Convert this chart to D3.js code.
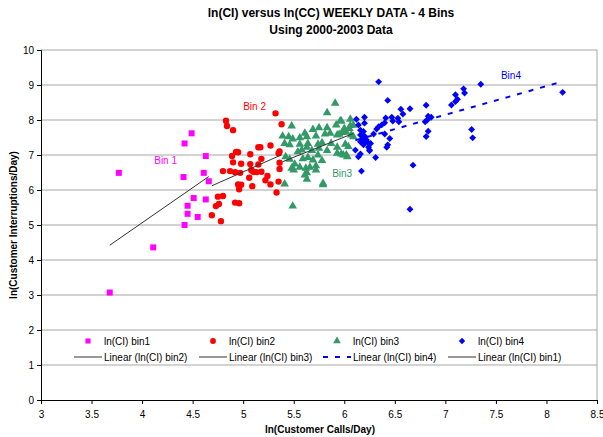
<!DOCTYPE html>
<html>
<head>
<meta charset="utf-8">
<script src="https://cdn.jsdelivr.net/npm/d3@7"></script>
<style>
  body { margin: 0; background: #fff; }
  svg { font-family: "Liberation Sans", Arial, sans-serif; }
</style>
</head>
<body>
<svg class="chart" width="603" height="437"></svg>
<script>
// ln(CI) vs ln(CC), weekly data, split into 4 bins
var bin1X = [4.49, 4.42, 4.63, 3.77, 4.61, 4.41, 4.66, 4.51, 4.63, 4.45, 4.45, 4.55, 4.42, 4.11, 3.68];
var bin1Y = [7.62, 7.33, 6.97, 6.49, 6.49, 6.37, 6.25, 5.77, 5.73, 5.55, 5.32, 5.23, 5.00, 4.36, 3.07];

var bin2X = [5.32, 4.83, 4.84, 5.38, 4.90, 5.27, 5.17, 4.93, 4.95, 5.07, 5.36, 5.35, 4.89, 5.18, 4.90, 4.98,
             5.07, 5.15, 5.36, 5.36, 4.80, 4.87, 4.92, 4.97, 5.08, 5.10, 5.13, 5.18, 5.24, 5.06, 5.22, 4.95,
             4.98, 5.09, 5.27, 5.35, 4.96, 5.33, 4.75, 4.80, 4.92, 4.96, 4.76, 4.73, 4.69, 4.78, 5.15];
var bin2Y = [8.19, 7.98, 7.83, 7.88, 7.71, 7.27, 7.22, 7.09, 7.08, 7.02, 7.10, 7.05, 6.97, 6.89, 6.79, 6.75,
             6.74, 6.73, 6.78, 6.60, 6.54, 6.54, 6.51, 6.49, 6.57, 6.52, 6.51, 6.52, 6.40, 6.35, 6.28, 6.16,
             6.15, 6.11, 6.16, 6.24, 6.02, 5.93, 5.81, 5.83, 5.64, 5.62, 5.60, 5.54, 5.28, 5.11, 7.22];

var bin3X = [5.91, 5.83, 5.96, 6.06, 5.48, 5.75, 5.69, 5.83, 5.61, 5.45, 5.49, 5.63, 5.72, 5.81, 5.93, 6.00,
             6.05, 5.41, 5.46, 5.64, 5.56, 5.74, 5.78, 5.87, 6.01, 5.63, 5.83, 5.68, 5.93, 5.54, 5.93, 5.97,
             6.02, 5.74, 5.42, 5.46, 5.59, 5.64, 5.69, 5.78, 5.51, 5.48, 5.56, 5.66, 5.72, 5.63, 5.63, 5.41,
             5.79, 5.49, 5.97, 6.00, 6.06, 6.09, 5.98, 6.02, 6.07, 6.04, 5.99, 6.03, 6.09, 5.92, 5.39, 5.56,
             5.86, 5.95, 5.58, 5.75, 5.50, 5.62, 5.72, 5.61, 5.79];
var bin3Y = [8.48, 8.21, 7.97, 8.02, 7.83, 7.78, 7.73, 7.78, 7.62, 7.52, 7.46, 7.52, 7.54, 7.60, 7.57, 7.67,
             7.76, 7.33, 7.29, 7.33, 7.31, 7.31, 7.35, 7.33, 7.31, 7.22, 7.13, 7.13, 7.22, 7.09, 7.05, 7.03,
             7.00, 7.00, 6.95, 6.88, 6.89, 6.93, 6.86, 6.84, 6.74, 6.62, 6.65, 6.65, 6.57, 6.49, 6.31, 6.17,
             6.15, 5.54, 7.97, 7.76, 7.84, 7.85, 7.64, 7.65, 7.57, 7.24, 7.00, 6.95, 7.52, 7.86, 7.54, 7.49,
             7.62, 7.59, 7.14, 7.19, 6.57, 6.62, 6.69, 6.43, 6.19];

var bin4X = [6.34, 7.35, 8.16, 7.18, 7.19, 7.10, 7.12, 7.10, 7.06, 6.43, 6.81, 6.56, 6.65, 6.58, 6.53, 6.47,
             6.48, 6.41, 6.54, 6.83, 6.82, 6.80, 6.86, 6.12, 6.20, 6.20, 6.40, 6.37, 6.34, 6.32, 6.29, 6.40,
             6.14, 6.16, 6.19, 6.16, 6.20, 6.18, 6.16, 6.20, 6.22, 6.24, 6.26, 6.19, 6.24, 6.25, 6.11, 6.16,
             6.14, 6.25, 6.31, 6.42, 6.43, 6.45, 6.17, 6.68, 6.65, 7.26, 7.27, 6.83, 6.81];
var bin4Y = [9.09, 9.02, 8.79, 8.89, 8.77, 8.72, 8.59, 8.53, 8.43, 8.56, 8.42, 8.31, 8.32, 8.17, 8.05, 8.08,
             7.97, 8.06, 7.95, 8.11, 8.00, 7.95, 8.08, 8.02, 8.08, 7.91, 7.92, 7.86, 7.81, 7.74, 7.60, 7.60,
             7.86, 7.71, 7.67, 7.57, 7.54, 7.45, 7.38, 7.38, 7.43, 7.33, 7.33, 7.29, 7.22, 7.14, 7.14, 7.03,
             6.95, 7.12, 6.93, 7.22, 7.29, 7.47, 6.54, 6.71, 5.45, 7.73, 7.49, 7.68, 7.53];

var xTicks = [3, 3.5, 4, 4.5, 5, 5.5, 6, 6.5, 7, 7.5, 8, 8.5];
var yTicks = [0, 1, 2, 3, 4, 5, 6, 7, 8, 9, 10];

var seriesNames = ["ln(CI) bin1", "ln(CI) bin2", "ln(CI) bin3", "ln(CI) bin4"];
var trendNames = ["Linear (ln(CI) bin2)", "Linear (ln(CI) bin3)", "Linear (ln(CI) bin4)", "Linear (ln(CI) bin1)"];
var binLabels = ["Bin 1", "Bin 2", "Bin3", "Bin4"];
var binLabelX = [4.12, 5.0, 5.88, 7.55];
var binLabelY = [6.83, 8.38, 6.47, 9.28];

var colors = ["#ff00ff", "#ff0000", "#339966", "#0000ff"];

var svg = d3.select(".chart"),
    margin = { top: 50, right: 6, bottom: 37, left: 41 },
    width = +svg.attr("width") - margin.left - margin.right,
    height = +svg.attr("height") - margin.top - margin.bottom;

var x = d3.scaleLinear().domain([3, 8.5]).range([0, width]),
    y = d3.scaleLinear().domain([0, 10]).range([height, 0]);

var g = svg.append("g")
    .attr("transform", "translate(" + margin.left + "," + margin.top + ")");

// titles
svg.append("text")
    .attr("x", 331).attr("y", 17)
    .attr("text-anchor", "middle")
    .style("font-size", "12px").style("font-weight", "bold")
    .text("ln(CI) versus ln(CC) WEEKLY DATA - 4 Bins");
svg.append("text")
    .attr("x", 331).attr("y", 34)
    .attr("text-anchor", "middle")
    .style("font-size", "12px").style("font-weight", "bold")
    .text("Using 2000-2003 Data");

// gridlines + plot border
g.selectAll(".grid")
    .data(yTicks.filter(function(d) { return d > 0; }))
    .enter().append("line")
    .attr("class", "grid")
    .attr("x1", 0).attr("x2", width)
    .attr("y1", function(d) { return y(d); })
    .attr("y2", function(d) { return y(d); })
    .attr("stroke", "#a6a6a6");
g.append("line")
    .attr("x1", width).attr("x2", width)
    .attr("y1", 0).attr("y2", height)
    .attr("stroke", "#a6a6a6");

// axes
var xAxis = g.append("g")
    .attr("transform", "translate(0," + height + ")")
    .call(d3.axisBottom(x).tickValues(xTicks).tickSize(4).tickFormat(d3.format("")));
var yAxis = g.append("g")
    .call(d3.axisLeft(y).tickValues(yTicks).tickSize(4));
[xAxis, yAxis].forEach(function(a) {
    a.select(".domain").attr("stroke", "#000");
    a.selectAll(".tick line").attr("stroke", "#000");
    a.selectAll("text").style("font-family", "Liberation Sans, Arial, sans-serif")
        .style("font-size", "10px").attr("fill", "#000");
});
xAxis.selectAll("text").attr("dy", "1.05em");

svg.append("text")
    .attr("x", 320).attr("y", 433)
    .attr("text-anchor", "middle")
    .style("font-size", "10px").style("font-weight", "bold")
    .text("ln(Customer Calls/Day)");
svg.append("text")
    .attr("transform", "translate(17," + (margin.top + height / 2) + ") rotate(-90)")
    .attr("text-anchor", "middle")
    .style("font-size", "10px").style("font-weight", "bold")
    .text("ln(Customer Interruptions/Day)");

// points
var bins = [
    { xs: bin1X, ys: bin1Y, shape: d3.symbolSquare, size: 36 },
    { xs: bin2X, ys: bin2Y, shape: d3.symbolCircle, size: 32 },
    { xs: bin3X, ys: bin3Y, shape: d3.symbolTriangle, size: 32 },
    { xs: bin4X, ys: bin4Y, shape: d3.symbolDiamond2, size: 30 }
];

bins.forEach(function(b, i) {
    var pts = b.xs.map(function(v, k) { return [v, b.ys[k]]; });
    g.append("g").selectAll("path")
        .data(pts)
        .enter().append("path")
        .attr("transform", function(d) { return "translate(" + x(d[0]) + "," + y(d[1]) + ")"; })
        .attr("d", d3.symbol().type(b.shape).size(b.size))
        .attr("fill", colors[i]);
});

// linear trendlines (least squares, over each bin's x range)
function fit(xs, ys) {
    var mx = d3.mean(xs), my = d3.mean(ys), sxy = 0, sxx = 0;
    xs.forEach(function(v, k) { sxy += (v - mx) * (ys[k] - my); sxx += (v - mx) * (v - mx); });
    var m = sxy / sxx, c = my - m * mx, x0 = d3.min(xs), x1 = d3.max(xs);
    return [[x0, m * x0 + c], [x1, m * x1 + c]];
}
var line = d3.line().x(function(d) { return x(d[0]); }).y(function(d) { return y(d[1]); });

bins.forEach(function(b, i) {
    var path = g.append("path")
        .attr("d", line(fit(b.xs, b.ys)))
        .attr("fill", "none");
    if (i == 3) {
        path.attr("stroke", "#0000ff").attr("stroke-width", 2).attr("stroke-dasharray", "5,7");
    } else {
        path.attr("stroke", "#333").attr("stroke-width", 1);
    }
});

// bin labels
g.selectAll(".binlabel")
    .data(binLabels)
    .enter().append("text")
    .attr("class", "binlabel")
    .attr("x", function(d, i) { return x(binLabelX[i]); })
    .attr("y", function(d, i) { return y(binLabelY[i]); })
    .attr("dy", "0.35em")
    .style("font-size", "10px")
    .attr("fill", function(d, i) { return colors[i]; })
    .text(function(d) { return d; });

// legend
var legX = [104, 229, 353, 478];
var legend = svg.append("g");
var shapes = [d3.symbolSquare, d3.symbolCircle, d3.symbolTriangle, d3.symbolDiamond2];
seriesNames.forEach(function(name, i) {
    legend.append("path")
        .attr("transform", "translate(" + (legX[i] - 16) + ",341)")
        .attr("d", d3.symbol().type(shapes[i]).size(26))
        .attr("fill", colors[i]);
    legend.append("text")
        .attr("x", legX[i]).attr("y", 341).attr("dy", "0.35em")
        .style("font-size", "10px")
        .text(name);
});
trendNames.forEach(function(name, i) {
    var l = legend.append("line")
        .attr("x1", legX[i] - 30).attr("x2", legX[i] - 2)
        .attr("y1", 357).attr("y2", 357);
    if (i == 2) {
        l.attr("stroke", "#0000ff").attr("stroke-width", 2).attr("stroke-dasharray", "5,7");
    } else {
        l.attr("stroke", "#333").attr("stroke-width", 1);
    }
    legend.append("text")
        .attr("x", legX[i]).attr("y", 357).attr("dy", "0.35em")
        .style("font-size", "10px")
        .text(name);
});
</script>
</body>
</html>
